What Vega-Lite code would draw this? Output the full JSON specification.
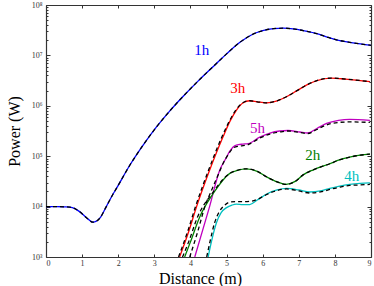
{
"$schema": "https://vega.github.io/schema/vega-lite/v6.json",
"width": 325, "height": 252,
"autosize": {"type": "none"},
"padding": {"left": 46, "top": 5, "right": 3, "bottom": 29},
"background": "white",
"config": {"view": {"stroke": null}, "axis": {"grid": false, "domainColor": "#333", "domainWidth": 1.2, "tickColor": "#333", "tickWidth": 1, "labelFont": "Liberation Serif", "labelFontSize": 8, "labelColor": "#333"}},
"datasets": {
"solid": [
{"s":"1h","x":0,"y":10000},{"s":"1h","x":0.3,"y":10000},{"s":"1h","x":0.5,"y":9900},{"s":"1h","x":0.66,"y":9772},{"s":"1h","x":0.8,"y":9120},{"s":"1h","x":0.93,"y":7943},{"s":"1h","x":1.12,"y":6026},{"s":"1h","x":1.3,"y":4898},{"s":"1h","x":1.49,"y":5888},{"s":"1h","x":1.67,"y":10000},{"s":"1h","x":1.85,"y":17380},{"s":"1h","x":1.95,"y":22910},{"s":"1h","x":2.32,"y":66070},{"s":"1h","x":2.69,"y":166000},{"s":"1h","x":3.06,"y":380200},{"s":"1h","x":3.43,"y":794300},{"s":"1h","x":3.8,"y":1549000},{"s":"1h","x":4.21,"y":3090000},{"s":"1h","x":4.72,"y":6918000},{"s":"1h","x":5.0,"y":10720000},{"s":"1h","x":5.37,"y":18200000},{"s":"1h","x":5.7,"y":25700000},{"s":"1h","x":6.0,"y":30900000},{"s":"1h","x":6.3,"y":33880000},{"s":"1h","x":6.57,"y":34670000},{"s":"1h","x":6.9,"y":33110000},{"s":"1h","x":7.2,"y":30200000},{"s":"1h","x":7.5,"y":26920000},{"s":"1h","x":7.8,"y":22910000},{"s":"1h","x":8.04,"y":20420000},{"s":"1h","x":8.5,"y":17780000},{"s":"1h","x":9.0,"y":15850000},
{"s":"3h","x":3.7,"y":1000},{"s":"3h","x":3.95,"y":3162},{"s":"3h","x":4.17,"y":10000},{"s":"3h","x":4.53,"y":52480},{"s":"3h","x":4.9,"y":239900},{"s":"3h","x":5.1,"y":501200},{"s":"3h","x":5.27,"y":812800},{"s":"3h","x":5.46,"y":1148000},{"s":"3h","x":5.64,"y":1259000},{"s":"3h","x":5.85,"y":1202000},{"s":"3h","x":6.11,"y":1148000},{"s":"3h","x":6.4,"y":1259000},{"s":"3h","x":6.66,"y":1514000},{"s":"3h","x":6.95,"y":1995000},{"s":"3h","x":7.21,"y":2570000},{"s":"3h","x":7.5,"y":3162000},{"s":"3h","x":7.9,"y":3548000},{"s":"3h","x":8.3,"y":3388000},{"s":"3h","x":8.97,"y":3020000},
{"s":"5h","x":4.12,"y":1000},{"s":"5h","x":4.53,"y":10000},{"s":"5h","x":4.81,"y":52480},{"s":"5h","x":5.0,"y":95500},{"s":"5h","x":5.09,"y":125900},{"s":"5h","x":5.27,"y":166000},{"s":"5h","x":5.45,"y":173800},{"s":"5h","x":5.6,"y":177800},{"s":"5h","x":5.92,"y":239900},{"s":"5h","x":6.2,"y":288400},{"s":"5h","x":6.47,"y":316200},{"s":"5h","x":6.7,"y":323600},{"s":"5h","x":7.03,"y":302000},{"s":"5h","x":7.25,"y":288400},{"s":"5h","x":7.5,"y":354800},{"s":"5h","x":7.77,"y":446700},{"s":"5h","x":8.1,"y":512900},{"s":"5h","x":8.41,"y":537000},{"s":"5h","x":8.97,"y":512900},
{"s":"2h","x":3.84,"y":1000},{"s":"2h","x":4.0,"y":1995},{"s":"2h","x":4.26,"y":6310},{"s":"2h","x":4.63,"y":18200},{"s":"2h","x":5.09,"y":45710},{"s":"2h","x":5.3,"y":52480},{"s":"2h","x":5.55,"y":56230},{"s":"2h","x":5.85,"y":50120},{"s":"2h","x":6.11,"y":38900},{"s":"2h","x":6.4,"y":30900},{"s":"2h","x":6.65,"y":27540},{"s":"2h","x":6.9,"y":31620},{"s":"2h","x":7.12,"y":42660},{"s":"2h","x":7.4,"y":53700},{"s":"2h","x":7.86,"y":70790},{"s":"2h","x":8.1,"y":83180},{"s":"2h","x":8.41,"y":95500},{"s":"2h","x":8.7,"y":104700},{"s":"2h","x":8.97,"y":109600},
{"s":"4h","x":4.49,"y":1000},{"s":"4h","x":4.58,"y":1995},{"s":"4h","x":4.72,"y":4786},{"s":"4h","x":4.85,"y":7586},{"s":"4h","x":5.0,"y":9550},{"s":"4h","x":5.15,"y":10720},{"s":"4h","x":5.27,"y":11220},{"s":"4h","x":5.45,"y":10960},{"s":"4h","x":5.64,"y":10960},{"s":"4h","x":5.85,"y":13490},{"s":"4h","x":6.11,"y":17780},{"s":"4h","x":6.4,"y":21380},{"s":"4h","x":6.66,"y":22910},{"s":"4h","x":7.0,"y":21380},{"s":"4h","x":7.3,"y":19500},{"s":"4h","x":7.6,"y":20420},{"s":"4h","x":7.86,"y":22910},{"s":"4h","x":8.1,"y":25120},{"s":"4h","x":8.41,"y":27540},{"s":"4h","x":8.7,"y":28840},{"s":"4h","x":8.97,"y":29510}
],
"dashed": [
{"s":"1h","x":0,"y":10000},{"s":"1h","x":0.3,"y":10000},{"s":"1h","x":0.5,"y":9900},{"s":"1h","x":0.66,"y":9772},{"s":"1h","x":0.8,"y":9120},{"s":"1h","x":0.93,"y":7943},{"s":"1h","x":1.12,"y":6026},{"s":"1h","x":1.3,"y":4898},{"s":"1h","x":1.49,"y":5888},{"s":"1h","x":1.67,"y":10000},{"s":"1h","x":1.85,"y":17380},{"s":"1h","x":1.95,"y":22910},{"s":"1h","x":2.32,"y":66070},{"s":"1h","x":2.69,"y":166000},{"s":"1h","x":3.06,"y":380200},{"s":"1h","x":3.43,"y":794300},{"s":"1h","x":3.8,"y":1549000},{"s":"1h","x":4.21,"y":3090000},{"s":"1h","x":4.72,"y":6918000},{"s":"1h","x":5.0,"y":10720000},{"s":"1h","x":5.37,"y":18200000},{"s":"1h","x":5.7,"y":25700000},{"s":"1h","x":6.0,"y":30900000},{"s":"1h","x":6.3,"y":33880000},{"s":"1h","x":6.57,"y":34670000},{"s":"1h","x":6.9,"y":33110000},{"s":"1h","x":7.2,"y":30200000},{"s":"1h","x":7.5,"y":26920000},{"s":"1h","x":7.8,"y":22910000},{"s":"1h","x":8.04,"y":20420000},{"s":"1h","x":8.5,"y":17780000},{"s":"1h","x":9.0,"y":15850000},
{"s":"3h","x":3.67,"y":1000},{"s":"3h","x":3.92,"y":3162},{"s":"3h","x":4.14,"y":10000},{"s":"3h","x":4.5,"y":52480},{"s":"3h","x":4.87,"y":239900},{"s":"3h","x":5.08,"y":501200},{"s":"3h","x":5.25,"y":812800},{"s":"3h","x":5.45,"y":1148000},{"s":"3h","x":5.64,"y":1259000},{"s":"3h","x":5.85,"y":1202000},{"s":"3h","x":6.11,"y":1148000},{"s":"3h","x":6.4,"y":1259000},{"s":"3h","x":6.66,"y":1514000},{"s":"3h","x":6.95,"y":1995000},{"s":"3h","x":7.21,"y":2570000},{"s":"3h","x":7.5,"y":3162000},{"s":"3h","x":7.9,"y":3548000},{"s":"3h","x":8.3,"y":3388000},{"s":"3h","x":8.97,"y":3020000},
{"s":"5h","x":3.98,"y":1000},{"s":"5h","x":4.2,"y":3162},{"s":"5h","x":4.4,"y":10000},{"s":"5h","x":4.6,"y":22390},{"s":"5h","x":4.75,"y":39810},{"s":"5h","x":4.9,"y":70790},{"s":"5h","x":5.05,"y":109600},{"s":"5h","x":5.2,"y":147900},{"s":"5h","x":5.35,"y":158500},{"s":"5h","x":5.6,"y":169800},{"s":"5h","x":5.92,"y":229100},{"s":"5h","x":6.2,"y":275400},{"s":"5h","x":6.47,"y":302000},{"s":"5h","x":6.7,"y":316200},{"s":"5h","x":7.03,"y":295100},{"s":"5h","x":7.25,"y":281800},{"s":"5h","x":7.5,"y":338800},{"s":"5h","x":7.77,"y":416900},{"s":"5h","x":8.1,"y":467700},{"s":"5h","x":8.41,"y":478600},{"s":"5h","x":8.97,"y":467700},
{"s":"2h","x":3.78,"y":1000},{"s":"2h","x":3.95,"y":1995},{"s":"2h","x":4.2,"y":6310},{"s":"2h","x":4.6,"y":18200},{"s":"2h","x":5.09,"y":45710},{"s":"2h","x":5.3,"y":52480},{"s":"2h","x":5.55,"y":56230},{"s":"2h","x":5.85,"y":50120},{"s":"2h","x":6.11,"y":38900},{"s":"2h","x":6.4,"y":30900},{"s":"2h","x":6.65,"y":27540},{"s":"2h","x":6.9,"y":31620},{"s":"2h","x":7.12,"y":42660},{"s":"2h","x":7.4,"y":53700},{"s":"2h","x":7.86,"y":70790},{"s":"2h","x":8.1,"y":83180},{"s":"2h","x":8.41,"y":95500},{"s":"2h","x":8.7,"y":104700},{"s":"2h","x":8.97,"y":109600},
{"s":"4h","x":4.45,"y":1000},{"s":"4h","x":4.54,"y":1995},{"s":"4h","x":4.67,"y":4786},{"s":"4h","x":4.8,"y":7943},{"s":"4h","x":4.95,"y":10720},{"s":"4h","x":5.1,"y":12300},{"s":"4h","x":5.27,"y":12590},{"s":"4h","x":5.5,"y":12590},{"s":"4h","x":5.7,"y":12880},{"s":"4h","x":5.9,"y":14450},{"s":"4h","x":6.11,"y":17380},{"s":"4h","x":6.4,"y":20890},{"s":"4h","x":6.66,"y":22390},{"s":"4h","x":7.0,"y":20420},{"s":"4h","x":7.3,"y":18620},{"s":"4h","x":7.6,"y":19500},{"s":"4h","x":7.86,"y":21880},{"s":"4h","x":8.1,"y":23990},{"s":"4h","x":8.41,"y":26300},{"s":"4h","x":8.7,"y":26920},{"s":"4h","x":8.97,"y":27540}
],
"labels": [
{"s":"1h","x":4.31,"y":13000000},{"s":"3h","x":5.31,"y":2300000},{"s":"5h","x":5.86,"y":370000},{"s":"2h","x":7.39,"y":105000},{"s":"4h","x":8.47,"y":40000}
]
},
"layer": [
{
"data": {"name": "solid"},
"mark": {"type": "line", "strokeWidth": 1.3, "clip": true, "interpolate": "monotone"},
"encoding": {
"x": {"field": "x", "type": "quantitative", "scale": {"domain": [0, 9], "nice": false, "zero": false},
"axis": {"orient": "bottom", "title": "Distance (m)", "titleFont": "Liberation Serif", "titleFontSize": 16, "titleFontWeight": "normal", "titleColor": "black", "titleX": 154, "titleAlign": "center", "values": [0,1,2,3,4,5,6,7,8,9], "tickSize": -3, "labelPadding": 5, "titlePadding": 3}},
"y": {"field": "y", "type": "quantitative", "scale": {"type": "log", "domain": [1000, 100000000], "nice": false},
"axis": {"orient": "left", "title": "Power (W)", "titleFont": "Liberation Serif", "titleFontSize": 16, "titleFontWeight": "normal", "titleColor": "black", "values": [1000,2000,3000,4000,5000,6000,7000,8000,9000,10000,20000,30000,40000,50000,60000,70000,80000,90000,100000,200000,300000,400000,500000,600000,700000,800000,900000,1000000,2000000,3000000,4000000,5000000,6000000,7000000,8000000,9000000,10000000,20000000,30000000,40000000,50000000,60000000,70000000,80000000,90000000,100000000],
"tickSize": {"condition": {"test": "datum.value == pow(10, round(log(datum.value)/LN10))", "value": -4}, "value": -2},
"labelExpr": "datum.value == pow(10, round(log(datum.value)/LN10)) ? '10' + ['⁰','¹','²','³','⁴','⁵','⁶','⁷','⁸','⁹'][round(log(datum.value)/LN10)] : ''",
"labelPadding": 8, "titlePadding": 9}},
"color": {"field": "s", "type": "nominal", "legend": null, "scale": {"domain": ["1h","2h","3h","4h","5h"], "range": ["#0000ff","#008000","#ff0000","#00bfbf","#bf00bf"]}}
}
},
{
"data": {"name": "dashed"},
"mark": {"type": "line", "strokeWidth": 1.3, "color": "black", "strokeDash": [4, 3], "clip": true, "interpolate": "monotone"},
"encoding": {
"x": {"field": "x", "type": "quantitative", "axis": {"orient": "top", "title": null, "labels": false, "values": [0,1,2,3,4,5,6,7,8,9], "tickSize": -3}},
"y": {"field": "y", "type": "quantitative", "axis": {"orient": "right", "title": null, "labels": false, "values": [1000,2000,3000,4000,5000,6000,7000,8000,9000,10000,20000,30000,40000,50000,60000,70000,80000,90000,100000,200000,300000,400000,500000,600000,700000,800000,900000,1000000,2000000,3000000,4000000,5000000,6000000,7000000,8000000,9000000,10000000,20000000,30000000,40000000,50000000,60000000,70000000,80000000,90000000,100000000],
"tickSize": {"condition": {"test": "datum.value == pow(10, round(log(datum.value)/LN10))", "value": -4}, "value": -2}}},
"detail": {"field": "s", "type": "nominal"}
}
},
{
"data": {"name": "labels"},
"mark": {"type": "text", "font": "Liberation Serif", "fontSize": 15, "align": "center", "baseline": "middle"},
"encoding": {
"x": {"field": "x", "type": "quantitative", "axis": null},
"y": {"field": "y", "type": "quantitative", "axis": null},
"text": {"field": "s"},
"color": {"field": "s", "type": "nominal", "legend": null}
}
}
],
"resolve": {"axis": {"x": "independent", "y": "independent"}}
}
